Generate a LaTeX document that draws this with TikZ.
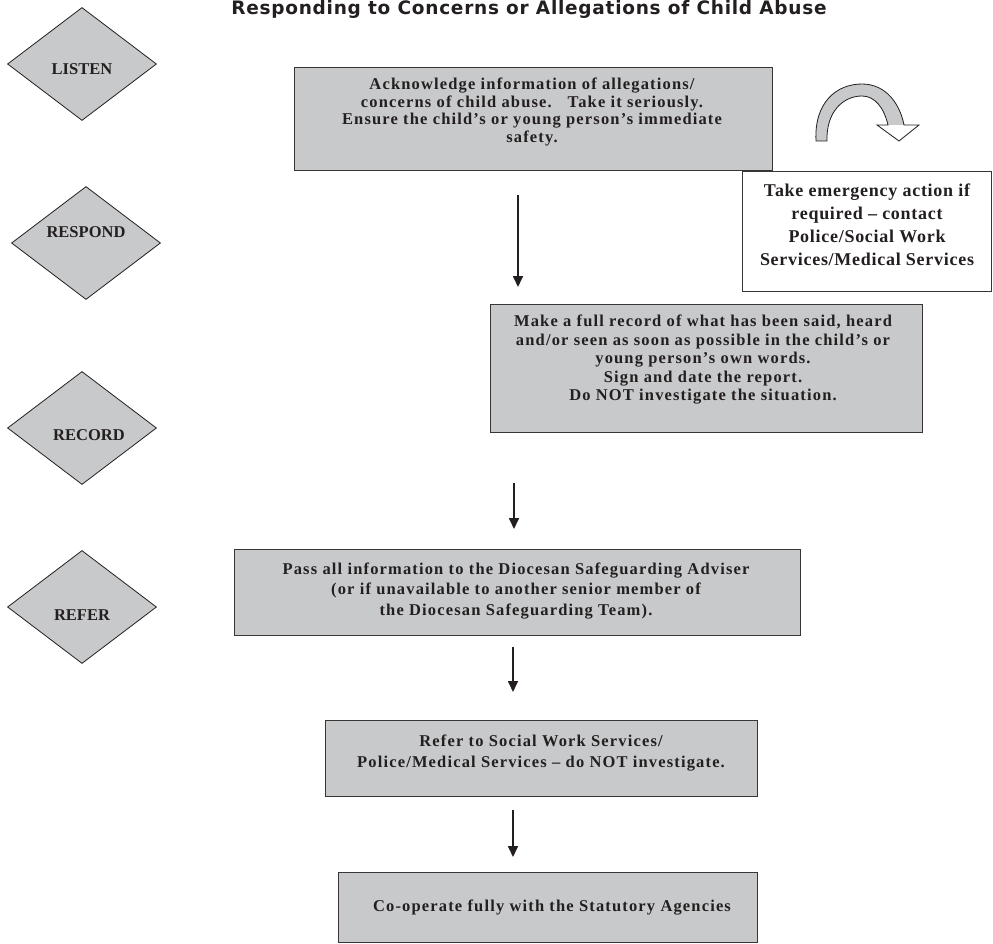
\documentclass[tikz,border=0pt]{standalone}
\usepackage{fontspec}
\setmainfont{Liberation Serif}
\newfontfamily\titlefont[LetterSpace=4]{DejaVu Sans}
\newfontfamily\boxfont[LetterSpace=7]{Liberation Serif}
\newfontfamily\emfont[LetterSpace=4]{Liberation Serif}
\usetikzlibrary{arrows.meta,shapes.geometric}
\definecolor{boxgray}{RGB}{200,201,203}
\definecolor{ink}{RGB}{35,31,32}
\begin{document}
\begin{tikzpicture}[x=1pt,y=-1pt,
  gbox/.style={draw=ink!90, line width=1.4pt, fill=boxgray, anchor=north west, inner sep=0pt},
  ebox/.style={draw=ink!90, line width=1.4pt, fill=white, anchor=north west, inner sep=0pt},
  btext/.style={align=center, text=ink, inner sep=0pt, font=\boxfont\bfseries\fontsize{16.5}{18.3}\selectfont},
  etext/.style={align=center, text=ink, inner sep=0pt, font=\emfont\bfseries\fontsize{18}{23}\selectfont},
  diam/.style={diamond, draw=ink, line width=0.8pt, fill=boxgray, inner sep=0pt, minimum width=149pt, minimum height=113pt},
  dlabel/.style={text=ink, inner sep=0pt, font=\bfseries\fontsize{16.5}{18}\selectfont},
  flow/.style={draw=ink, line width=1.7pt, -{Triangle[width=10pt,length=11pt]}}
]
\useasboundingbox (0,0) rectangle (993,944);
\fill[white] (0,0) rectangle (993,944);

% title
\node[anchor=base, inner sep=0pt, font=\titlefont\bfseries\fontsize{18.5}{20}\selectfont, text=ink] (title) at (529,15) {Responding to Concerns or Allegations of Child Abuse};

% diamonds
\node[diam] (listen) at (82,64) {};
\node[dlabel] (listenT) at (82,69) {LISTEN};
\node[diam] (respond) at (86,243) {};
\node[dlabel] (respondT) at (86,232) {RESPOND};
\node[diam] (record) at (82,428) {};
\node[dlabel] (recordT) at (89,435) {RECORD};
\node[diam] (refer) at (82,607) {};
\node[dlabel] (referT) at (82,615) {REFER};

% boxes
\node[gbox, minimum width=478pt, minimum height=103pt] (b1) at (294,67) {};
\node[btext, font=\boxfont\bfseries\fontsize{16.5}{17.7}\selectfont] (b1T) at (532,112)
  {Acknowledge information of allegations/\\concerns of child abuse.\ \ \ Take it seriously.\\Ensure the child’s or young person’s immediate\\safety.};
\node[ebox, minimum width=249pt, minimum height=120pt] (em) at (742,171) {};
\node[etext] (emT) at (867,225)
  {Take emergency action if\\required – contact\\Police/Social Work\\Services/Medical Services};
\node[gbox, minimum width=432pt, minimum height=128pt] (b2) at (490,304) {};
\node[btext, font=\boxfont\bfseries\fontsize{16.5}{18.5}\selectfont] (b2T) at (703,360)
  {Make a full record of what has been said, heard\\and/or seen as soon as possible in the child’s or\\young person’s own words.\\Sign and date the report.\\Do NOT investigate the situation.};
\node[gbox, minimum width=566pt, minimum height=86pt] (b3) at (234,549) {};
\node[btext, font=\boxfont\bfseries\fontsize{16.5}{20.5}\selectfont] (b3T) at (516,591)
  {Pass all information to the Diocesan Safeguarding Adviser\\(or if unavailable to another senior member of\\the Diocesan Safeguarding Team).};
\node[gbox, minimum width=432pt, minimum height=76pt] (b4) at (325,720) {};
\node[btext, font=\boxfont\bfseries\fontsize{16.5}{21}\selectfont] (b4T) at (541,753)
  {Refer to Social Work Services/\\Police/Medical Services – do NOT investigate.};
\node[gbox, minimum width=419pt, minimum height=70pt] (b5) at (338,872) {};
\node[btext] (b5T) at (552,908) {Co-operate fully with the Statutory Agencies};

% arrows
\coordinate (a1s) at (518,195); \coordinate (a1e) at (518,287);
\coordinate (a2s) at (514,483); \coordinate (a2e) at (514,529);
\coordinate (a3s) at (513,647); \coordinate (a3e) at (513,692);
\coordinate (a4s) at (513,810); \coordinate (a4e) at (513,857);
\draw[flow] (a1s) -- (a1e);
\draw[flow] (a2s) -- (a2e);
\draw[flow] (a3s) -- (a3e);
\draw[flow] (a4s) -- (a4e);

% curved block arrow
\fill[boxgray] (816,141) .. controls (814,103) and (836,84) .. (862,84)
  .. controls (886,84) and (900,104) .. (904,125) -- (888,125)
  .. controls (884,108) and (875,96) .. (862,96)
  .. controls (843,96) and (826,112) .. (827,141) -- cycle;
\draw[ink, line width=0.8pt, line join=miter] (816,141) .. controls (814,103) and (836,84) .. (862,84)
  .. controls (886,84) and (900,104) .. (904,125) -- (919,125) -- (899,141) -- (877,125) -- (888,125)
  .. controls (884,108) and (875,96) .. (862,96)
  .. controls (843,96) and (826,112) .. (827,141) -- cycle;
\end{tikzpicture}
\end{document}
